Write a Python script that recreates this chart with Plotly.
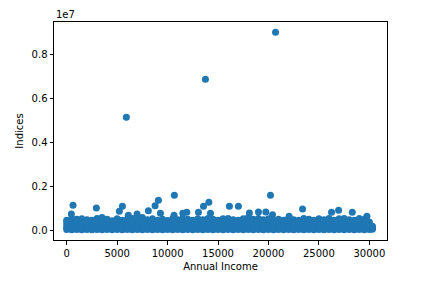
import plotly.graph_objects as go

# Outlier points (Annual Income, Indices)
out_x = [5913, 13750, 20700, 625, 460, 2940, 5520, 5220, 6110, 6975, 8095, 8760, 9090, 9290,
         10670, 10640, 11510, 11900, 13060, 13560, 14090, 14250, 16130, 17020, 20200, 18110,
         19010, 19740, 20400, 22050, 23380, 26250, 26950, 28310, 29760]
out_y = [5160000, 6890000, 9030000, 1160000, 760000, 1030000, 1110000, 880000, 700000, 760000,
         910000, 1140000, 1380000, 790000, 1610000, 700000, 790000, 840000, 840000, 1110000,
         1290000, 790000, 1110000, 1110000, 1610000, 800000, 850000, 850000, 730000, 660000,
         990000, 840000, 930000, 840000, 660000]

# Dense cluster of points near the bottom, sampled along income
band_x = [0, 500, 1000, 1500, 2000, 2500, 3000, 3500, 4000, 4500, 5000, 5500, 6000, 6500,
          7000, 7500, 8000, 8500, 9000, 9500, 10000, 10500, 11000, 11500, 12000, 12500, 13000,
          13500, 14000, 14500, 15000, 15500, 16000, 16500, 17000, 17500, 18000, 18500, 19000,
          19500, 20000, 20500, 21000, 21500, 22000, 22500, 23000, 23500, 24000, 24500, 25000,
          25500, 26000, 26500, 27000, 27500, 28000, 28500, 29000, 29500, 30000, 30300]
band_top = [480000, 560000, 520000, 540000, 500000, 470000, 560000, 600000, 520000, 450000,
            540000, 480000, 520000, 560000, 470000, 600000, 500000, 540000, 480000, 520000,
            460000, 540000, 500000, 560000, 520000, 470000, 540000, 500000, 560000, 520000,
            480000, 540000, 560000, 500000, 470000, 540000, 600000, 520000, 560000, 500000,
            540000, 470000, 520000, 480000, 560000, 500000, 470000, 560000, 520000, 480000,
            540000, 500000, 560000, 470000, 540000, 560000, 500000, 470000, 560000, 520000,
            400000, 200000]
band_upper_mid = [390000, 400000, 380000, 400000, 390000, 380000, 400000, 390000, 380000,
                  370000, 400000, 390000, 380000, 400000, 380000, 400000, 390000, 380000,
                  390000, 400000, 380000, 400000, 390000, 400000, 380000, 370000, 400000,
                  390000, 400000, 380000, 390000, 400000, 390000, 380000, 370000, 400000,
                  400000, 390000, 400000, 380000, 400000, 370000, 390000, 380000, 400000,
                  390000, 370000, 400000, 390000, 380000, 400000, 390000, 400000, 370000,
                  400000, 400000, 390000, 370000, 400000, 390000, 320000, 180000]
band_mid = [260000, 280000, 270000, 260000, 280000, 270000, 260000, 280000, 270000, 260000,
            280000, 270000, 260000, 280000, 270000, 260000, 280000, 270000, 260000, 280000,
            270000, 260000, 280000, 270000, 260000, 280000, 270000, 260000, 280000, 270000,
            260000, 280000, 270000, 260000, 280000, 270000, 260000, 280000, 270000, 260000,
            280000, 270000, 260000, 280000, 270000, 260000, 280000, 270000, 260000, 280000,
            270000, 260000, 280000, 270000, 260000, 280000, 270000, 260000, 280000, 270000,
            260000, 150000]
band_lower_mid = [150000, 160000, 150000, 160000, 150000, 160000, 150000, 160000, 150000,
                  160000, 150000, 160000, 150000, 160000, 150000, 160000, 150000, 160000,
                  150000, 160000, 150000, 160000, 150000, 160000, 150000, 160000, 150000,
                  160000, 150000, 160000, 150000, 160000, 150000, 160000, 150000, 160000,
                  150000, 160000, 150000, 160000, 150000, 160000, 150000, 160000, 150000,
                  160000, 150000, 160000, 150000, 160000, 150000, 160000, 150000, 160000,
                  150000, 160000, 150000, 160000, 150000, 160000, 150000, 100000]
band_low = [50000, 40000, 50000, 40000, 50000, 40000, 50000, 40000, 50000, 40000, 50000, 40000,
            50000, 40000, 50000, 40000, 50000, 40000, 50000, 40000, 50000, 40000, 50000, 40000,
            50000, 40000, 50000, 40000, 50000, 40000, 50000, 40000, 50000, 40000, 50000, 40000,
            50000, 40000, 50000, 40000, 50000, 40000, 50000, 40000, 50000, 40000, 50000, 40000,
            50000, 40000, 50000, 40000, 50000, 40000, 50000, 40000, 50000, 40000, 50000, 40000,
            50000, 60000]

x_ticks = [0, 5000, 10000, 15000, 20000, 25000, 30000]
x_tick_text = ["0", "5000", "10000", "15000", "20000", "25000", "30000"]
y_ticks = [0, 2000000, 4000000, 6000000, 8000000]
y_tick_text = ["0.0", "0.2", "0.4", "0.6", "0.8"]

color = "#1f77b4"
fig = go.Figure()
for ys in (band_low, band_lower_mid, band_mid, band_upper_mid, band_top):
    fig.add_trace(go.Scatter(x=band_x, y=ys, mode="markers",
                             marker=dict(size=7, color=color, line=dict(width=0)),
                             showlegend=False, hoverinfo="skip"))
fig.add_trace(go.Scatter(x=out_x, y=out_y, mode="markers",
                         marker=dict(size=7, color=color, line=dict(width=0)),
                         showlegend=False))

axis_common = dict(showline=True, mirror=True, linecolor="black", linewidth=1,
                   ticks="outside", ticklen=3.5, tickwidth=1, tickcolor="black",
                   showgrid=False, zeroline=False,
                   tickfont=dict(family="DejaVu Sans", size=10, color="black"))

fig.update_layout(
    width=430, height=286,
    margin=dict(l=54, r=43, t=22, b=46),
    paper_bgcolor="white", plot_bgcolor="white",
    font=dict(family="DejaVu Sans", size=10, color="black"),
    xaxis=dict(range=[-1260, 31750], tickvals=x_ticks, ticktext=x_tick_text,
               title=dict(text="Annual Income", standoff=5,
                          font=dict(family="DejaVu Sans", size=10, color="black")),
               **axis_common),
    yaxis=dict(range=[-424000, 9500000], tickvals=y_ticks, ticktext=y_tick_text,
               title=dict(text="Indices", standoff=6,
                          font=dict(family="DejaVu Sans", size=10, color="black")),
               **axis_common),
    annotations=[dict(text="1e7", xref="paper", yref="paper", x=0, y=1,
                      xanchor="left", yanchor="bottom", showarrow=False,
                      font=dict(family="DejaVu Sans", size=10, color="black"))],
)

fig.write_html("out.html")
